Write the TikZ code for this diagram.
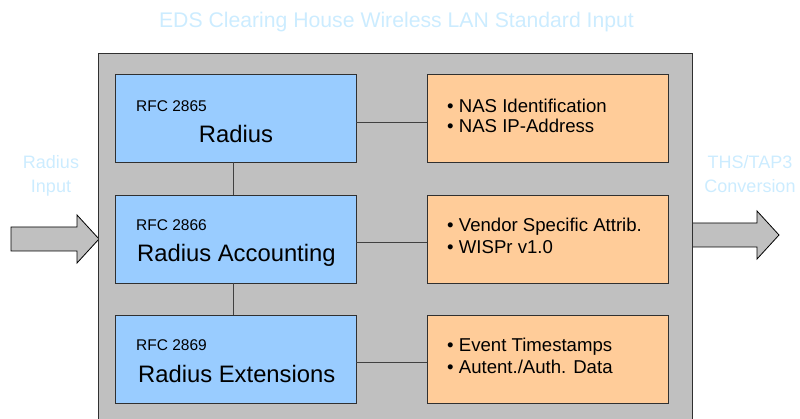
\documentclass[tikz,border=0pt]{standalone}
\usepackage{fontspec}
\setmainfont{Liberation Sans}
\definecolor{grayF}{HTML}{C0C0C0}
\definecolor{blueF}{HTML}{99CCFF}
\definecolor{orangeF}{HTML}{FFCC99}
\definecolor{lightT}{HTML}{CCECFF}
\definecolor{edge}{HTML}{303030}
\definecolor{conn}{HTML}{404040}
\begin{document}
\begin{tikzpicture}[x=1pt,y=-1pt,
  blk/.style={draw=edge, line width=0.9pt, minimum width=241pt, minimum height=88pt, inner sep=0pt, outer sep=0pt, anchor=north west},
  bluebox/.style={blk, fill=blueF},
  orangebox/.style={blk, fill=orangeF},
  rfc/.style={anchor=base west, inner sep=0pt, font=\fontsize{15.5}{18}\selectfont},
  big/.style={inner sep=0pt, font=\fontsize{23.8}{27}\selectfont},
  bul/.style={anchor=base west, inner sep=0pt, font=\fontsize{18.6}{21}\selectfont},
  side/.style={anchor=base, inner sep=0pt, text=lightT, font=\fontsize{18}{21}\selectfont},
  link/.style={draw=conn, line width=0.9pt},
  bigarrow/.style={draw=black, line width=0.8pt, fill=grayF, line join=miter}
]
\useasboundingbox (0,0) rectangle (800,419);
\clip (0,0) rectangle (800,419);

% title
\node[anchor=base, inner sep=0pt, text=lightT, font=\fontsize{21.2}{24}\selectfont] (title) at (396.5,28) {EDS Clearing House Wireless LAN Standard Input};

% side labels
\node[side] (rin1) at (51,169) {Radius};
\node[side] (rin2) at (51,193) {Input};
\node[side] (ths1) at (750,169) {THS/TAP3};
\node[side] (ths2) at (750,193) {Conversion};

% arrows
\draw[bigarrow] (11,227) -- (77,227) -- (77,215) -- (99,239) -- (77,263) -- (77,251) -- (11,251) -- cycle;
\draw[bigarrow] (692,223) -- (757,223) -- (757,211) -- (779,235) -- (757,259) -- (757,247) -- (692,247) -- cycle;

% frame
\node[draw=edge, line width=1pt, fill=grayF, anchor=north west, minimum width=594pt, minimum height=400pt, inner sep=0pt, outer sep=0pt] (frame) at (98,54) {};

% boxes
\node[bluebox] (b1) at (115,74) {};
\node[bluebox] (b2) at (115,195) {};
\node[bluebox] (b3) at (115,315) {};
\node[orangebox] (o1) at (427,74) {};
\node[orangebox] (o2) at (427,195) {};
\node[orangebox] (o3) at (427,315) {};

% connectors
\draw[link] ([xshift=-2.5pt]b1.south) -- ([xshift=-2.5pt]b2.north);
\draw[link] ([xshift=-2.5pt]b2.south) -- ([xshift=-2.5pt]b3.north);
\draw[link] ([yshift=-4.5pt]b1.east) -- ([yshift=-4.5pt]o1.west);
\draw[link] ([yshift=-3.5pt]b2.east) -- ([yshift=-3.5pt]o2.west);
\draw[link] ([yshift=-3.5pt]b3.east) -- ([yshift=-3.5pt]o3.west);

% blue texts
\node[rfc] (t1a) at (136,112) {RFC 2865};
\node[big, anchor=base] (t1b) at (236,143) {Radius};
\node[rfc] (t2a) at (136,231) {RFC 2866};
\node[big, anchor=base west] (t2b) at (137,262) {Radius Accounting};
\node[rfc] (t3a) at (136,351) {RFC 2869};
\node[big, anchor=base west] (t3b) at (138,382) {Radius Extensions};

% orange texts
\node[bul] (u1a) at (447,113) {• NAS Identification};
\node[bul] (u1b) at (447,133) {• NAS IP-Address};
\node[bul] (u2a) at (447,232) {• Vendor Specific Attrib.};
\node[bul] (u2b) at (447,254) {• WISPr v1.0};
\node[bul] (u3a) at (447,352) {• Event Timestamps};
\node[bul] (u3b) at (447,373) {• Autent./Auth. Data};
\end{tikzpicture}
\end{document}
